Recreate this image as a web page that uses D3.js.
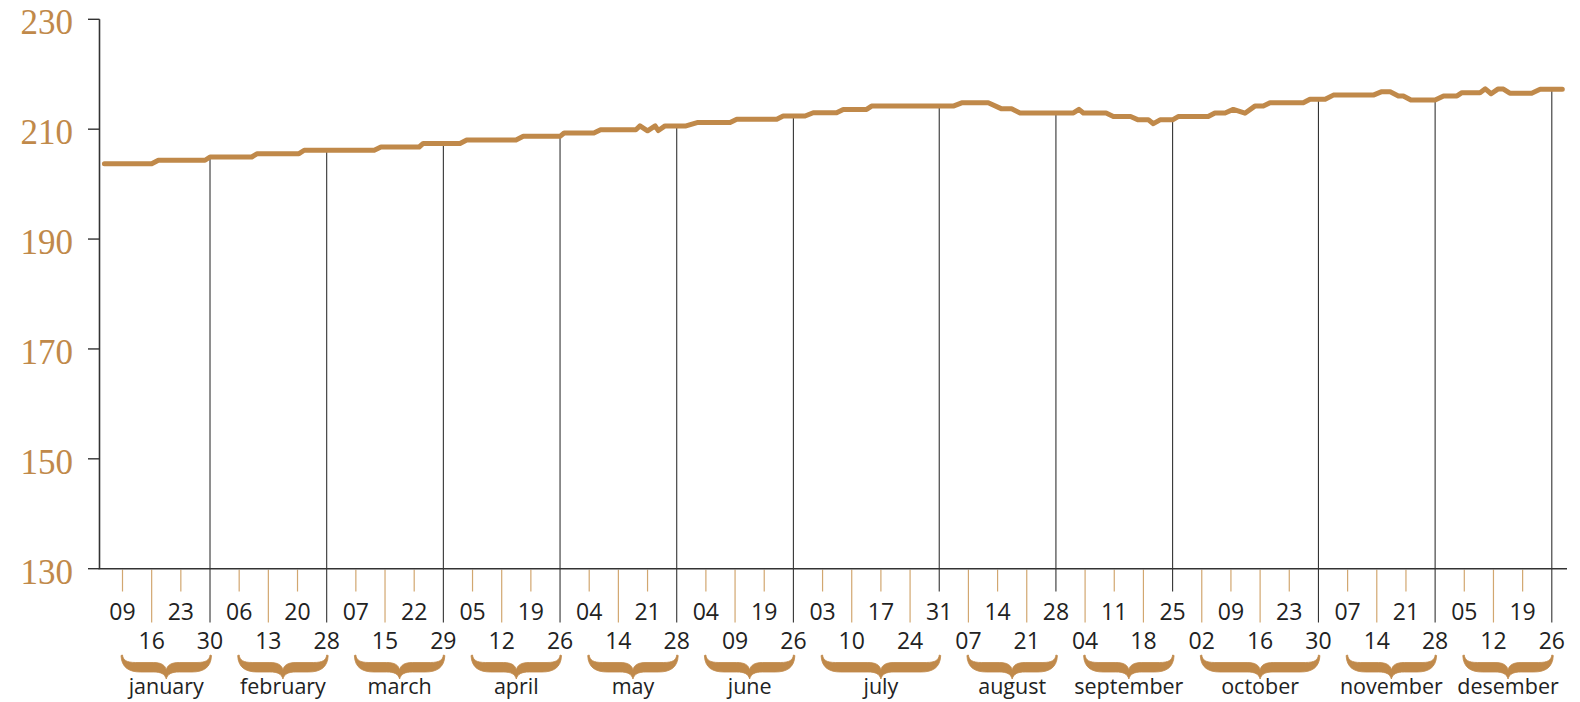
<!DOCTYPE html>
<html>
<head>
<meta charset="utf-8">
<script src="https://cdn.jsdelivr.net/npm/d3@7/dist/d3.min.js"></script>
<style>
  html, body { margin: 0; padding: 0; background: #ffffff; }
  svg { display: block; }
</style>
</head>
<body>
<svg id="chart" width="1580" height="702"></svg>
<script>
// ---------- data ----------
const yTicks = [130, 150, 170, 190, 210, 230];
const monthNames = ["january", "february", "march", "april", "may", "june",
  "july", "august", "september", "october", "november", "desember"];
const ticksPerMonth = [4, 4, 4, 4, 4, 4, 5, 4, 4, 5, 4, 4];
const tickDays = ["09","16","23","30","06","13","20","28","07","15","22","29",
  "05","12","19","26","04","14","21","28","04","09","19","26",
  "03","10","17","24","31","07","14","21","28","04","11","18","25",
  "02","09","16","23","30","07","14","21","28","05","12","19","26"];
// series: [position in weeks (0 = first tick), value]
const seriesWeek = [-0.62,1.00,1.23,2.83,3.00,4.43,4.62,6.05,6.23,8.63,8.86,10.17,10.31,11.57,11.80,
  13.49,13.74,15.00,15.14,16.16,16.39,17.60,17.74,18.00,18.26,18.37,18.60,19.32,19.70,20.83,21.06,
  22.43,22.65,23.40,23.68,24.48,24.71,25.51,25.68,28.48,28.77,29.68,30.14,30.48,30.77,32.60,32.79,
  32.94,33.72,33.97,34.56,34.82,35.17,35.34,35.57,36.00,36.19,37.22,37.45,37.80,38.08,38.48,38.82,
  39.11,39.34,40.48,40.71,41.23,41.51,42.88,43.15,43.46,43.74,43.91,44.17,45.00,45.29,45.75,45.92,
  46.54,46.72,46.92,47.15,47.34,47.56,48.31,48.60,49.36];
const seriesValue = [203.72,203.72,204.34,204.34,204.94,204.94,205.54,205.54,206.16,206.16,206.76,206.76,207.4,207.4,208.03,
  208.03,208.7,208.7,209.3,209.3,209.9,209.9,210.6,209.7,210.6,209.75,210.6,210.6,211.2,211.2,211.8,
  211.8,212.4,212.4,213.0,213.0,213.6,213.6,214.2,214.2,214.8,214.8,213.7,213.7,212.95,212.95,213.6,
  212.95,212.95,212.3,212.3,211.7,211.7,211.0,211.7,211.7,212.3,212.3,212.95,212.95,213.6,212.9,214.2,
  214.2,214.8,214.8,215.45,215.45,216.2,216.2,216.8,216.8,216.05,216.05,215.3,215.3,216.05,216.05,216.65,
  216.65,217.35,216.45,217.3,217.3,216.55,216.55,217.25,217.25];

// ---------- styling ----------
const gold = "#c0894a";
const dark = "#333333";
const tickGold = "#d2a770";

const svg = d3.select("#chart");

const x = d3.scaleLinear().domain([0, tickDays.length - 1]).range([122.5, 1551.8]);
const y = d3.scaleLinear().domain([130, 230]).range([568.7, 19.3]);

const axisLeftX = 99.5;
const axisY = y(130);
const axisRight = 1567;

// build tick objects
const ticks = [];
let k = 0;
ticksPerMonth.forEach((n, m) => {
  for (let i = 0; i < n; i++) {
    ticks.push({ idx: k, label: tickDays[k], month: m, monthEnd: i === n - 1 });
    k++;
  }
});

const series = seriesWeek.map((w, i) => ({ w, v: seriesValue[i] }));
function valueAt(w) {
  const bis = d3.bisector(d => d.w).left;
  let i = bis(series, w);
  if (i <= 0) return series[0].v;
  if (i >= series.length) return series[series.length - 1].v;
  const a = series[i - 1], b = series[i];
  const t = (w - a.w) / (b.w - a.w);
  return a.v + t * (b.v - a.v);
}

// ---------- y axis ----------
const gY = svg.append("g");
gY.append("line")
  .attr("x1", axisLeftX).attr("x2", axisLeftX)
  .attr("y1", y(230)).attr("y2", axisY)
  .attr("stroke", dark).attr("stroke-width", 1.6);
gY.selectAll("line.yt").data(yTicks).join("line")
  .attr("class", "yt")
  .attr("x1", 88).attr("x2", axisLeftX)
  .attr("y1", d => y(d)).attr("y2", d => y(d))
  .attr("stroke", dark).attr("stroke-width", 1.4);
gY.selectAll("text").data(yTicks).join("text")
  .attr("x", 73).attr("y", d => y(d) + 15)
  .attr("text-anchor", "end")
  .attr("font-family", "'Liberation Serif', 'DejaVu Serif', serif")
  .attr("font-size", 35)
  .attr("fill", gold)
  .text(d => d);

// ---------- x ticks ----------
const gX = svg.append("g");
gX.selectAll("line.wk").data(ticks.filter(t => !t.monthEnd)).join("line")
  .attr("class", "wk")
  .attr("x1", d => x(d.idx)).attr("x2", d => x(d.idx))
  .attr("y1", axisY + 1).attr("y2", d => d.idx % 2 === 0 ? 591.5 : 622.5)
  .attr("stroke", tickGold).attr("stroke-width", 1.2);
gX.selectAll("line.me").data(ticks.filter(t => t.monthEnd)).join("line")
  .attr("class", "me")
  .attr("x1", d => x(d.idx)).attr("x2", d => x(d.idx))
  .attr("y1", d => y(valueAt(d.idx)))
  .attr("y2", d => d.idx % 2 === 0 ? 591.5 : 622.5)
  .attr("stroke", dark).attr("stroke-width", 1.1);

gX.append("line")
  .attr("x1", axisLeftX - 1).attr("x2", axisRight)
  .attr("y1", axisY).attr("y2", axisY)
  .attr("stroke", dark).attr("stroke-width", 1.6);

gX.selectAll("text.day").data(ticks).join("text")
  .attr("class", "day")
  .attr("x", d => x(d.idx))
  .attr("y", d => d.idx % 2 === 0 ? 619.5 : 648.5)
  .attr("text-anchor", "middle")
  .attr("font-family", "'Open Sans', 'Noto Sans', sans-serif")
  .attr("font-size", 23)
  .attr("fill", "#222")
  .text(d => d.label);

// ---------- braces ----------
const months = monthNames.map((name, m) => {
  const mt = ticks.filter(t => t.month === m);
  return { name, first: mt[0].idx, last: mt[mt.length - 1].idx };
});
function bracePath(x0, x1, top) {
  const W = x1 - x0, c = W / 2;
  const p = (px, py) => `${(x0 + px).toFixed(2)},${(top + py).toFixed(2)}`;
  return "M" + p(0, 0) +
    " C" + p(0.5, 5) + " " + p(4, 7.5) + " " + p(13, 7.5) +
    " L" + p(c - 13, 7.5) +
    " C" + p(c - 5, 7.5) + " " + p(c - 1, 10) + " " + p(c, 15) +
    " C" + p(c + 1, 10) + " " + p(c + 5, 7.5) + " " + p(c + 13, 7.5) +
    " L" + p(W - 13, 7.5) +
    " C" + p(W - 4, 7.5) + " " + p(W - 0.5, 5) + " " + p(W, 0) +
    " L" + p(W + 1.5, 0.5) +
    " C" + p(W + 1, 13) + " " + p(W - 7, 17) + " " + p(W - 18, 17) +
    " L" + p(c + 13, 17) +
    " C" + p(c + 5, 17) + " " + p(c + 1.5, 19) + " " + p(c, 24) +
    " C" + p(c - 1.5, 19) + " " + p(c - 5, 17) + " " + p(c - 13, 17) +
    " L" + p(18, 17) +
    " C" + p(7, 17) + " " + p(-1, 13) + " " + p(-1.5, 0.5) + " Z";
}
const gB = svg.append("g");
gB.selectAll("path").data(months).join("path")
  .attr("d", d => bracePath(x(d.first), x(d.last), 655))
  .attr("fill", gold)
  .attr("stroke", gold)
  .attr("stroke-width", 0.8)
  .attr("stroke-linejoin", "round");
gB.selectAll("text").data(months).join("text")
  .attr("x", d => (x(d.first) + x(d.last)) / 2)
  .attr("y", 694)
  .attr("text-anchor", "middle")
  .attr("font-family", "'Open Sans', 'Noto Sans', sans-serif")
  .attr("font-size", 21.5)
  .attr("fill", "#222")
  .text(d => d.name);

// ---------- line ----------
const line = d3.line().x(d => x(d.w)).y(d => y(d.v));
svg.append("path")
  .datum(series)
  .attr("d", line)
  .attr("fill", "none")
  .attr("stroke", gold)
  .attr("stroke-width", 5)
  .attr("stroke-linejoin", "round")
  .attr("stroke-linecap", "round");
</script>
</body>
</html>
